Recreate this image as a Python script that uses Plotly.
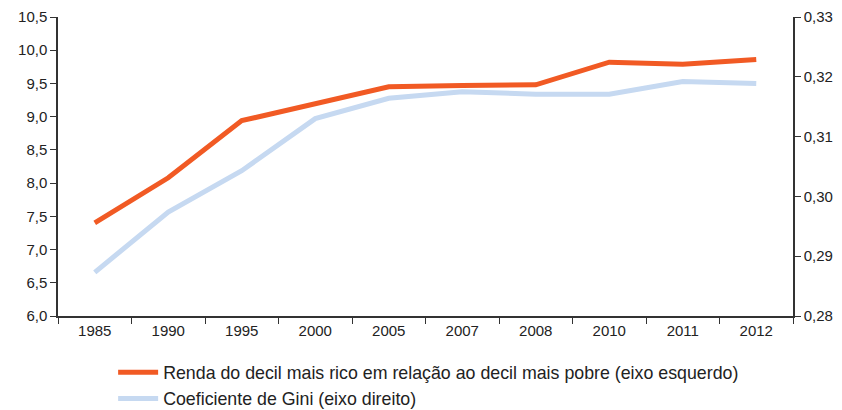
import plotly.graph_objects as go

years = ["1985", "1990", "1995", "2000", "2005", "2007", "2008", "2010", "2011", "2012"]
renda_ratio = [7.40, 8.08, 8.94, 9.19, 9.45, 9.47, 9.48, 9.82, 9.79, 9.86]
gini = [0.2873, 0.2974, 0.3043, 0.3130, 0.3164, 0.3175, 0.3171, 0.3171, 0.3192, 0.3189]

left_ticks = [6.0, 6.5, 7.0, 7.5, 8.0, 8.5, 9.0, 9.5, 10.0, 10.5]
right_ticks = [0.28, 0.29, 0.30, 0.31, 0.32, 0.33]

FONT = "Liberation Sans"

fig = go.Figure()
fig.add_trace(
    go.Scatter(
        x=years,
        y=renda_ratio,
        mode="lines",
        name="Renda do decil mais rico em relação ao decil mais pobre (eixo esquerdo)",
        line=dict(color="#F15A24", width=5),
    )
)
fig.add_trace(
    go.Scatter(
        x=years,
        y=gini,
        mode="lines",
        name="Coeficiente de Gini (eixo direito)",
        line=dict(color="#C6D9F1", width=5),
        yaxis="y2",
    )
)

axis_font = dict(family=FONT, size=15, color="#222")
axis_style = dict(
    showgrid=False,
    showline=True,
    linecolor="#333",
    linewidth=1.5,
    ticks="outside",
    ticklen=6,
    tickcolor="#333",
    tickfont=axis_font,
    ticklabeloverflow="allow",
    zeroline=False,
)

# page body has an 8px margin, so margins are shifted to compensate
fig.update_layout(
    width=842,
    height=410,
    separators=", ",
    template="plotly_white",
    paper_bgcolor="white",
    plot_bgcolor="white",
    margin=dict(l=50, r=57, t=9, b=102, autoexpand=False),
    font=dict(family=FONT, color="#222"),
    showlegend=True,
    legend=dict(
        orientation="v",
        x=0.075,
        y=-0.128,
        xanchor="left",
        yanchor="top",
        font=dict(family=FONT, size=17.8, color="#222"),
        tracegroupgap=0,
        itemwidth=40,
    ),
    xaxis=dict(type="category", range=[-0.5, 9.5], tickson="boundaries", **axis_style),
    yaxis=dict(range=[6.0, 10.5], tickvals=left_ticks, tickformat=".1f", **axis_style),
    yaxis2=dict(
        range=[0.28, 0.33],
        tickvals=right_ticks,
        tickformat=".2f",
        overlaying="y",
        side="right",
        **axis_style,
    ),
)

fig.write_html("out.html")
